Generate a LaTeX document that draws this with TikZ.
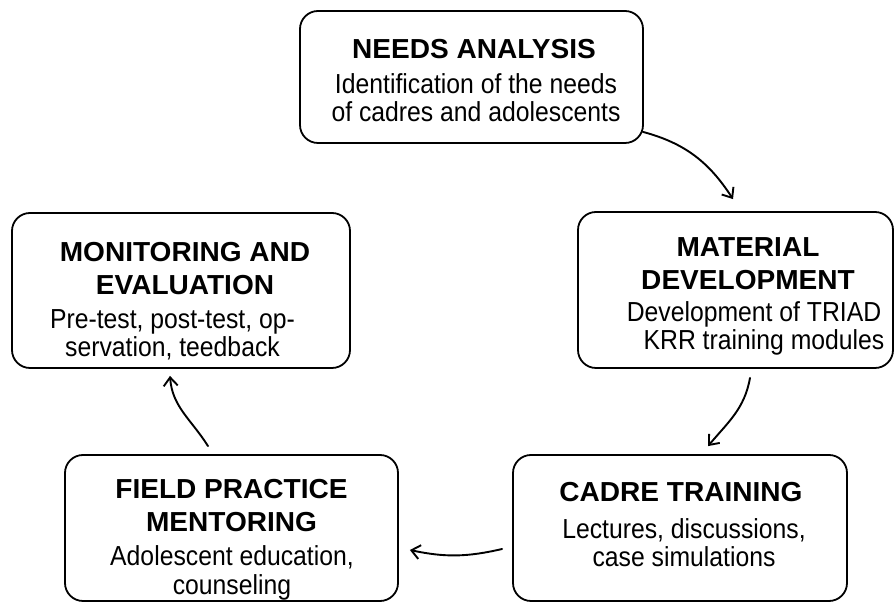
\documentclass[tikz,border=0pt]{standalone}
\usepackage{fontspec}
\setmainfont{Liberation Sans}
% narrower cut for the description lines, slightly wider one for headings
\newfontfamily\stagebodyfont[FakeStretch=0.9]{Liberation Sans}
\newfontfamily\stagetitlefont[FakeStretch=1.02]{Liberation Sans}
\usetikzlibrary{arrows.meta}

\begin{document}
\begin{tikzpicture}[x=1pt,y=1pt,
  stagebox/.style={draw=black, line width=1.8pt, rounded corners=18pt,
    inner sep=0pt, fill=white},
  titletext/.style={anchor=north, align=center, inner sep=0pt,
    font=\stagetitlefont\fontsize{27.5}{33}\selectfont\bfseries, text=black},
  bodytext/.style={anchor=north, align=center, inner sep=0pt,
    font=\stagebodyfont\fontsize{27.5}{28.5}\selectfont, text=black},
  flow/.style={line width=1.9pt, line cap=round,
    -{Straight Barb[length=8.5pt,width=14pt,line width=1.9pt]}}]

  % page frame
  \useasboundingbox (0,0) rectangle (895,602);

  % stage boxes
  \node[stagebox, minimum width=343pt, minimum height=132pt] (needs)   at (471.5,525) {};
  \node[stagebox, minimum width=315pt, minimum height=156pt] (material) at (735.5,312) {};
  \node[stagebox, minimum width=334pt, minimum height=146pt] (cadre)   at (680,74) {};
  \node[stagebox, minimum width=333pt, minimum height=146pt] (field)   at (231.5,74) {};
  \node[stagebox, minimum width=338pt, minimum height=155pt] (monitor) at (181,311.5) {};

  % stage texts
  \node[titletext] (needsT) at (474,563) {NEEDS ANALYSIS};
  \node[bodytext]  (needsB) at (476,529) {Identification of the needs\\of cadres and adolescents};

  \node[titletext] (materialT) at (748,365) {MATERIAL\\DEVELOPMENT};
  \node[bodytext]  (materialB) at (754,301) {Development of TRIAD\\\hspace*{20pt}KRR training modules};

  \node[titletext] (cadreT) at (681,120) {CADRE TRAINING};
  \node[bodytext]  (cadreB) at (684,84) {Lectures, discussions,\\case simulations};

  \node[titletext] (fieldT) at (231.5,123) {FIELD PRACTICE\\MENTORING};
  \node[bodytext]  (fieldB) at (232,56.5) {Adolescent education,\\counseling};

  \node[titletext] (monitorT) at (185,360) {MONITORING AND\\EVALUATION};
  \node[bodytext]  (monitorB) at (172.5,293) {Pre-test, post-test, op-\\servation, teedback};

  % cycle connectors
  \draw[flow] ([xshift=-1pt,yshift=12pt]needs.south east)
    to[out=-15,in=123] ([xshift=-2.5pt,yshift=12pt]material.north);
  \draw[flow] ([xshift=14.5pt,yshift=-9pt]material.south)
    to[out=-100,in=50] ([xshift=28pt,yshift=8pt]cadre.north);
  \draw[flow] ([xshift=-10pt,yshift=-21pt]cadre.west)
    to[out=193,in=-12] ([xshift=11pt,yshift=-22pt]field.east);
  \draw[flow] ([xshift=-23.5pt,yshift=8pt]field.north)
    to[out=122,in=-86] ([xshift=-11pt,yshift=-7pt]monitor.south);
\end{tikzpicture}
\end{document}
